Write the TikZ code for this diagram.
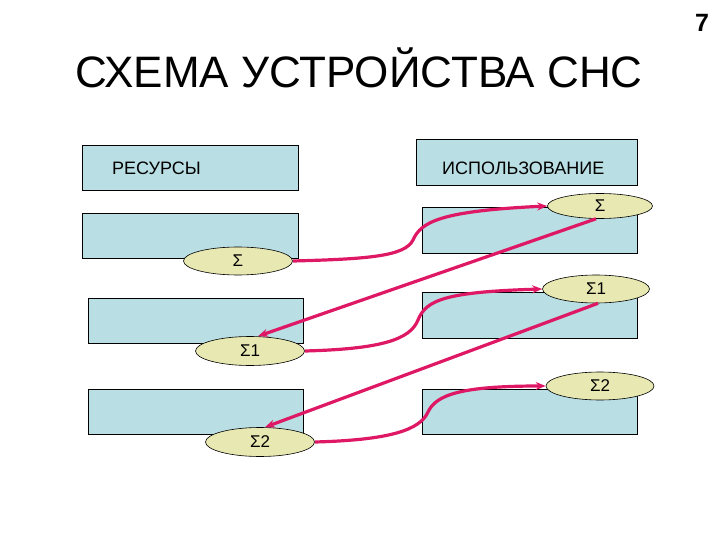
\documentclass[tikz,border=0pt]{standalone}
\usepackage{fontspec}
\setmainfont{Liberation Sans}
\usetikzlibrary{arrows.meta,shapes.geometric}
\definecolor{boxfill}{RGB}{185,222,227}
\definecolor{ellfill}{RGB}{232,232,178}
\definecolor{linkcol}{RGB}{222,24,100}
\tikzset{
  blk/.style={draw=black, line width=0.8pt, fill=boxfill, anchor=north west, inner sep=0pt},
  sig/.style={draw=black, line width=0.6pt, fill=ellfill, ellipse, inner sep=0pt, font=\fontsize{17}{19}\selectfont},
  link/.style={draw=linkcol, line width=3.2pt, -{Stealth[length=10pt,width=8pt]}},
  lbl/.style={font=\fontsize{18}{20}\selectfont, inner sep=0pt}
}
\begin{document}
\begin{tikzpicture}[x=1pt,y=-1pt]
\useasboundingbox (0,0) rectangle (720,540);
% title
\node[font=\fontsize{44}{48}\selectfont] (title) at (359,68) {СХЕМА УСТРОЙСТВА СНС};
\node[font=\bfseries\fontsize{25}{28}\selectfont] (num) at (702,23) {7};
% left boxes
\node[blk, minimum width=216pt, minimum height=45pt] (L1) at (82,145) {};
\node[lbl, anchor=west] (L1t) at (112,168) {РЕСУРСЫ};
\node[blk, minimum width=216pt, minimum height=45pt] (L2) at (82,213) {};
\node[blk, minimum width=215pt, minimum height=45pt] (L3) at (88,298) {};
\node[blk, minimum width=215pt, minimum height=45pt] (L4) at (88,389) {};
% right boxes
\node[blk, minimum width=221pt, minimum height=46pt] (R1) at (416,139) {};
\node[lbl, anchor=west] (R1t) at (442,168) {ИСПОЛЬЗОВАНИЕ};
\node[blk, minimum width=215pt, minimum height=46pt] (R2) at (422,207) {};
\node[blk, minimum width=215pt, minimum height=46pt] (R3) at (422,292) {};
\node[blk, minimum width=215pt, minimum height=45pt] (R4) at (422,389) {};
% ellipses
\node[sig, minimum width=105pt, minimum height=25pt] (rs0) at (600,206) {Σ};
\node[sig, minimum width=109pt, minimum height=28pt] (ls0) at (238,261) {Σ};
\node[sig, minimum width=107pt, minimum height=28pt] (rs1) at (596,289) {Σ1};
\node[sig, minimum width=109pt, minimum height=29pt] (ls1) at (250,351) {Σ1};
\node[sig, minimum width=108pt, minimum height=28pt] (rs2) at (600,386) {Σ2};
\node[sig, minimum width=109pt, minimum height=29pt] (ls2) at (260,442) {Σ2};
% connectors
\draw[link] (ls0.east) .. controls (370,259) and (405,256) .. (413,240) .. controls (421,222) and (440,211) .. (rs0.west);
\draw[link] (rs0.south) ++(-4,0) coordinate (a0) (a0) -- ([xshift=8pt]ls1.north);
\draw[link] (ls1.east) .. controls (380,349) and (410,340) .. (418,320) .. controls (426,300) and (445,292) .. (rs1.west);
\draw[link] (rs1.south) ++(2,0) coordinate (a1) (a1) -- ([xshift=5pt]ls2.north);
\draw[link] (ls2.east) .. controls (390,440) and (420,430) .. (428,412) .. controls (436,395) and (460,386) .. (rs2.west);
\end{tikzpicture}
\end{document}
